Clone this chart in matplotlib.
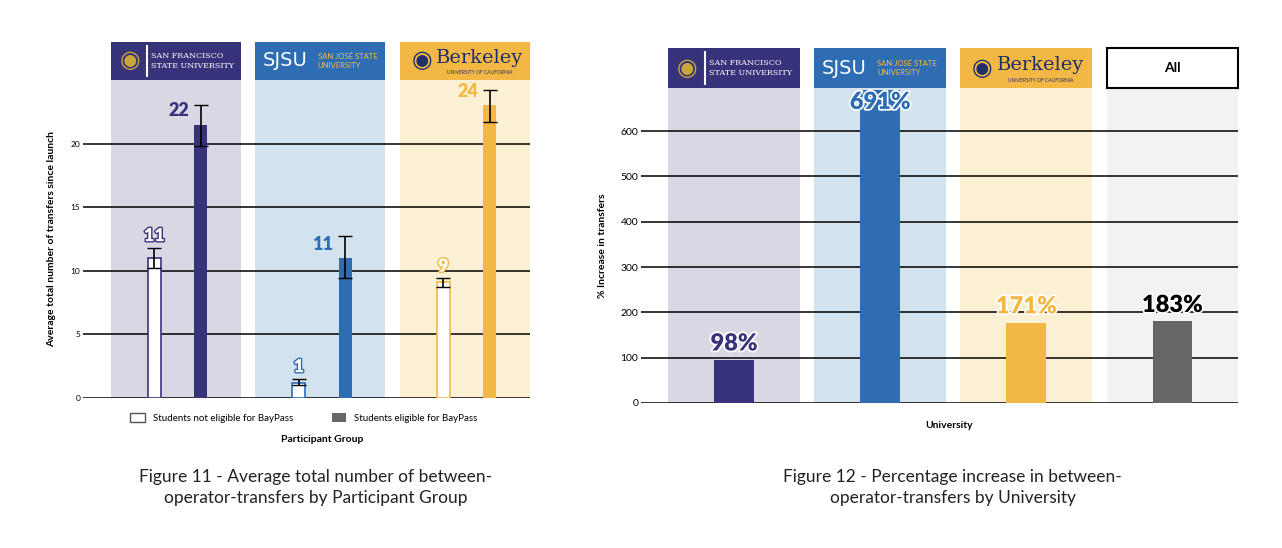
import matplotlib
matplotlib.use("Agg")
import matplotlib.pyplot as plt
import matplotlib.patheffects as pe
from matplotlib.patches import Rectangle, Patch

plt.rcParams['font.family'] = ['Lato', 'DejaVu Sans']

# ---- data ----
groups = ["SFSU", "SJSU", "Berkeley"]
not_eligible = [11.0, 1.2, 9.1]
not_elig_err_lo = [10.2, 1.0, 8.7]
not_elig_err_hi = [11.8, 1.5, 9.4]
eligible = [21.5, 11.0, 23.0]
elig_err_lo = [19.8, 9.4, 21.7]
elig_err_hi = [23.0, 12.7, 24.2]
not_elig_labels = ["11", "1", "9"]
elig_labels = ["22", "11", "24"]

universities = ["SFSU", "SJSU", "Berkeley", "All"]
pct_increase = [95, 691, 177, 180]
pct_labels = ["98%", "691%", "171%", "183%"]

main_c = ["#37337a", "#2e6db4", "#f3b843", "#666666"]
band_c = ["#dad7e4", "#d2e2ef", "#fcf0d4", "#f2f2f2"]

fig = plt.figure(figsize=(12.82, 5.48), dpi=100)

def header(ax, i, y0, y1, w=0.9):
    x0 = i - w / 2
    if i == 3:
        ax.add_patch(Rectangle((x0, y0), w, y1 - y0, fc="white", ec="black", lw=1.5, clip_on=False))
        ax.text(i, (y0 + y1) / 2, "All", ha="center", va="center", fontsize=10, fontweight="bold", clip_on=False)
        return
    ax.add_patch(Rectangle((x0, y0), w, y1 - y0, fc=main_c[i], ec="none", clip_on=False))
    ym = (y0 + y1) / 2
    if i == 0:
        ax.text(i - 0.17, ym, "SAN FRANCISCO\nSTATE UNIVERSITY", ha="left", va="center", color="white",
                fontsize=5.8, family="DejaVu Serif", linespacing=1.4, clip_on=False)
        ax.plot([i - 0.2, i - 0.2], [y0 + (y1 - y0) * 0.1, y1 - (y1 - y0) * 0.1], color="white", lw=1.5,
                clip_on=False)
        ax.text(i - 0.32, ym, "\u25C9", ha="center", va="center", color="#c9a53a", fontsize=17, clip_on=False)
    elif i == 1:
        ax.text(i - 0.4, ym, "SJSU", ha="left", va="center", color="white", fontsize=14,
                family="DejaVu Sans", clip_on=False)
        ax.text(i - 0.02, ym, "SAN JOSÉ STATE\nUNIVERSITY", ha="left", va="center", color="#f3b843",
                fontsize=5.5, linespacing=1.2, clip_on=False)
    else:
        ax.text(i - 0.3, ym, "\u25C9", ha="center", va="center", color="#1f2f6b", fontsize=17, clip_on=False)
        ax.text(i + 0.1, ym + (y1 - y0) * 0.08, "Berkeley", ha="center", va="center", color="#1f2f6b",
                fontsize=14, family="DejaVu Serif", clip_on=False)
        ax.text(i + 0.1, y0 + (y1 - y0) * 0.2, "UNIVERSITY OF CALIFORNIA", ha="center", va="center",
                color="#1f2f6b", fontsize=3.5, clip_on=False)

def style(ax, ticks):
    for s in ax.spines.values():
        s.set_visible(False)
    ax.set_xticks([])
    ax.set_yticks(ticks)
    ax.tick_params(axis="y", length=0, pad=2)
    for t in ticks:
        ax.axhline(t, color="black", lw=1.1, zorder=1)

outline = [pe.withStroke(linewidth=2.5, foreground="white")]

# ---- left chart ----
ax1 = fig.add_axes([0.0647, 0.2737, 0.3487, 0.5803])
ax1.set_xlim(-0.644, 2.45)
ax1.set_ylim(0, 25)
style(ax1, [0, 5, 10, 15, 20])
ax1.set_yticklabels(["0", "5", "10", "15", "20"], fontsize=6)
for i in range(3):
    ax1.axvspan(i - 0.45, i + 0.45, color=band_c[i], zorder=0, lw=0)
    header(ax1, i, 25, 28)
    xn, xe = i - 0.15, i + 0.17
    ax1.bar(xn, not_eligible[i], width=0.09, color="white", edgecolor=main_c[i], lw=1.2, zorder=2)
    ax1.bar(xe, eligible[i], width=0.09, color=main_c[i], zorder=2)
    ax1.errorbar([xn], [not_eligible[i]],
                 yerr=[[not_eligible[i] - not_elig_err_lo[i]], [not_elig_err_hi[i] - not_eligible[i]]],
                 fmt="none", ecolor="black", capsize=5, lw=1.2, zorder=3)
    ax1.errorbar([xe], [eligible[i]],
                 yerr=[[eligible[i] - elig_err_lo[i]], [elig_err_hi[i] - eligible[i]]],
                 fmt="none", ecolor="black", capsize=5, lw=1.2, zorder=3)
    ax1.text(xn, not_elig_err_hi[i] + 0.3, not_elig_labels[i], ha="center", va="bottom", fontsize=13,
             fontweight="heavy", color="white", zorder=4,
             path_effects=[pe.withStroke(linewidth=2, foreground=main_c[i])])
    ax1.text(xe - 0.08, eligible[i] + 0.4, elig_labels[i], ha="right", va="bottom", fontsize=13,
             fontweight="heavy", color=main_c[i], zorder=4)
ax1.set_ylabel("Average total number of transfers since launch", fontsize=7.5, fontweight="bold", labelpad=10)
fig.legend(handles=[Patch(fc="white", ec="#555555", lw=1), Patch(fc="#666666")],
           labels=["Students not eligible for BayPass", "Students eligible for BayPass"],
           loc="center", bbox_to_anchor=(0.237, 0.237), ncol=2, frameon=False, fontsize=7,
           columnspacing=4, handlelength=1.5, handleheight=1.0)
fig.text(0.251, 0.198, "Participant Group", ha="center", va="center", fontsize=7.5, fontweight="bold")
fig.text(0.246, 0.111, "Figure 11 - Average total number of between-\noperator-transfers by Participant Group",
         ha="center", va="center", fontsize=12.5, linespacing=1.4, color="#222222")

# ---- right chart ----
ax2 = fig.add_axes([0.5, 0.2646, 0.4657, 0.5748])
ax2.set_xlim(-0.637, 3.45)
ax2.set_ylim(0, 695)
style(ax2, [0, 100, 200, 300, 400, 500, 600])
ax2.set_yticklabels([str(v) for v in [0, 100, 200, 300, 400, 500, 600]], fontsize=7.5)
for i in range(4):
    ax2.axvspan(i - 0.45, i + 0.45, color=band_c[i], zorder=0, lw=0)
    header(ax2, i, 695, 783)
    ax2.bar(i, pct_increase[i], width=0.27, color=main_c[i], zorder=2)
    lbl_y = 640 if pct_increase[i] > 650 else pct_increase[i] + 12
    ax2.text(i, lbl_y, pct_labels[i], ha="center", va="bottom", fontsize=17, fontweight="heavy",
             color=main_c[i] if i < 3 else "black", zorder=4, path_effects=outline)
ax2.set_ylabel("% Increase in transfers", fontsize=7.5, fontweight="bold", labelpad=10)
fig.text(0.74, 0.223, "University", ha="center", va="center", fontsize=7.5, fontweight="bold")
fig.text(0.743, 0.111, "Figure 12 - Percentage increase in between-\noperator-transfers by University",
         ha="center", va="center", fontsize=12.5, linespacing=1.4, color="#222222")

fig.savefig("out.png", dpi=100)
